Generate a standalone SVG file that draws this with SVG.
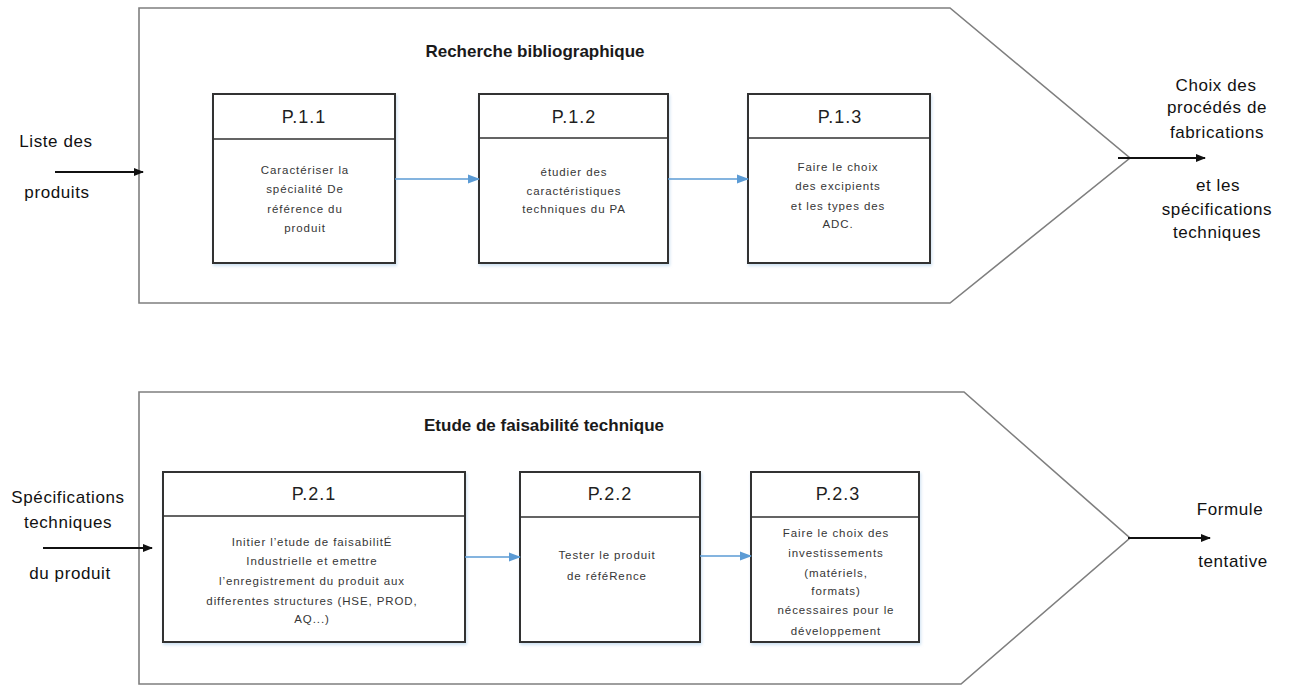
<svg xmlns="http://www.w3.org/2000/svg" width="1291" height="686" viewBox="0 0 1291 686">
<style>
.bg{fill:#ffffff}
.pent{fill:#ffffff;stroke:#7f7f7f;stroke-width:1.6}
.box{fill:#ffffff;stroke:#303030;stroke-width:2}
.div{stroke:#303030;stroke-width:1.6}
.title{font-family:"Liberation Sans",Arial,sans-serif;font-weight:bold;font-size:17px;fill:#1a1a1a;text-anchor:middle}
.hdr{font-family:"Liberation Sans",Arial,sans-serif;font-size:18px;letter-spacing:1px;fill:#1f1f1f;text-anchor:middle}
.body{font-family:"Liberation Sans",Arial,sans-serif;font-size:11.5px;letter-spacing:0.9px;fill:#363636;text-anchor:middle}
.lbl{font-family:"Liberation Sans",Arial,sans-serif;font-size:17px;letter-spacing:0.6px;fill:#111111;text-anchor:middle}
.blk{stroke:#111111;stroke-width:2;fill:none}
.blu{stroke:#5b9bd5;stroke-width:1.6;fill:none}
</style>
<defs>
<marker id="ab" markerWidth="10" markerHeight="10" refX="9" refY="5" orient="auto" markerUnits="userSpaceOnUse">
<path d="M0,1 L10,5 L0,9 Z" fill="#111111"/>
</marker>
<marker id="au" markerWidth="12" markerHeight="12" refX="11" refY="6" orient="auto" markerUnits="userSpaceOnUse">
<path d="M0,1.5 L12,6 L0,10.5 Z" fill="#5b9bd5"/>
</marker>
<filter id="sh" x="-5%" y="-5%" width="110%" height="110%">
<feDropShadow dx="1" dy="2" stdDeviation="1.5" flood-color="#9dc3e6" flood-opacity="0.5"/>
</filter>
</defs>
<rect class="bg" x="0" y="0" width="1291" height="686"/>

<g id="stage1">
<polygon class="pent" points="139,8 950,8 1130,158 950,303 139,303"/>
<text class="title" x="535" y="57">Recherche bibliographique</text>
</g>
<g id="stage2">
<polygon class="pent" points="139,392 964,392 1130,538 961,684 139,684"/>
<text class="title" x="544" y="431">Etude de faisabilité technique</text>
</g>

<g id="P111">
<rect class="box" filter="url(#sh)" x="213" y="94" width="182" height="169"/>
<line class="div" x1="213" y1="139" x2="395" y2="139"/>
<text class="hdr" x="304" y="123">P.1.1</text>
<text class="body" x="305" y="174">Caractériser la</text>
<text class="body" x="305" y="193">spécialité De</text>
<text class="body" x="305" y="213">référence du</text>
<text class="body" x="305" y="232">produit</text>
</g>
<g id="P112">
<rect class="box" filter="url(#sh)" x="479" y="94" width="189" height="169"/>
<line class="div" x1="479" y1="138" x2="668" y2="138"/>
<text class="hdr" x="574" y="123">P.1.2</text>
<text class="body" x="574" y="176">étudier des</text>
<text class="body" x="574" y="195">caractéristiques</text>
<text class="body" x="574" y="213">techniques du PA</text>
</g>
<g id="P113">
<rect class="box" filter="url(#sh)" x="748" y="94" width="182" height="169"/>
<line class="div" x1="748" y1="138" x2="930" y2="138"/>
<text class="hdr" x="840" y="123">P.1.3</text>
<text class="body" x="838" y="171">Faire le choix</text>
<text class="body" x="838" y="190">des excipients</text>
<text class="body" x="838" y="210">et les types des</text>
<text class="body" x="838" y="228">ADC.</text>
</g>

<g id="P221">
<rect class="box" filter="url(#sh)" x="163" y="472" width="302" height="170"/>
<line class="div" x1="163" y1="516" x2="465" y2="516"/>
<text class="hdr" x="314" y="500">P.2.1</text>
<text class="body" x="312" y="546">Initier l’etude de faisabilitÉ</text>
<text class="body" x="312" y="565">Industrielle et emettre</text>
<text class="body" x="312" y="585">l’enregistrement du produit aux</text>
<text class="body" x="312" y="605">differentes structures (HSE, PROD,</text>
<text class="body" x="312" y="623">AQ...)</text>
</g>
<g id="P222">
<rect class="box" filter="url(#sh)" x="520" y="472" width="180" height="170"/>
<line class="div" x1="520" y1="517" x2="700" y2="517"/>
<text class="hdr" x="610" y="500">P.2.2</text>
<text class="body" x="607" y="559">Tester le produit</text>
<text class="body" x="607" y="580">de réféRence</text>
</g>
<g id="P223">
<rect class="box" filter="url(#sh)" x="751" y="472" width="168" height="170"/>
<line class="div" x1="751" y1="517" x2="919" y2="517"/>
<text class="hdr" x="838" y="500">P.2.3</text>
<text class="body" x="836" y="537">Faire le choix des</text>
<text class="body" x="836" y="557">investissements</text>
<text class="body" x="836" y="577">(matériels,</text>
<text class="body" x="836" y="595">formats)</text>
<text class="body" x="836" y="614">nécessaires pour le</text>
<text class="body" x="836" y="635">développement</text>
</g>

<g id="in1">
<text class="lbl" x="56" y="147">Liste des</text>
<text class="lbl" x="57" y="198">produits</text>
</g>
<g id="out1">
<text class="lbl" x="1216" y="91">Choix des</text>
<text class="lbl" x="1217" y="113">procédés de</text>
<text class="lbl" x="1217" y="138">fabrications</text>
<text class="lbl" x="1218" y="191">et les</text>
<text class="lbl" x="1217" y="215">spécifications</text>
<text class="lbl" x="1217" y="238">techniques</text>
</g>
<g id="in2">
<text class="lbl" x="68" y="503">Spécifications</text>
<text class="lbl" x="68" y="528">techniques</text>
<text class="lbl" x="70" y="579">du produit</text>
</g>
<g id="out2">
<text class="lbl" x="1230" y="515">Formule</text>
<text class="lbl" x="1233" y="567">tentative</text>
</g>

<g id="connectors">
<line class="blk" x1="55" y1="172" x2="143" y2="172" marker-end="url(#ab)"/>
<line class="blk" x1="1118" y1="158" x2="1205" y2="158" marker-end="url(#ab)"/>
<line class="blk" x1="43" y1="548" x2="152" y2="548" marker-end="url(#ab)"/>
<line class="blk" x1="1128" y1="538" x2="1210" y2="538" marker-end="url(#ab)"/>
<line class="blu" x1="395" y1="179" x2="479" y2="179" marker-end="url(#au)"/>
<line class="blu" x1="668" y1="179" x2="748" y2="179" marker-end="url(#au)"/>
<line class="blu" x1="465" y1="557" x2="520" y2="557" marker-end="url(#au)"/>
<line class="blu" x1="700" y1="556" x2="751" y2="556" marker-end="url(#au)"/>
</g>
</svg>
